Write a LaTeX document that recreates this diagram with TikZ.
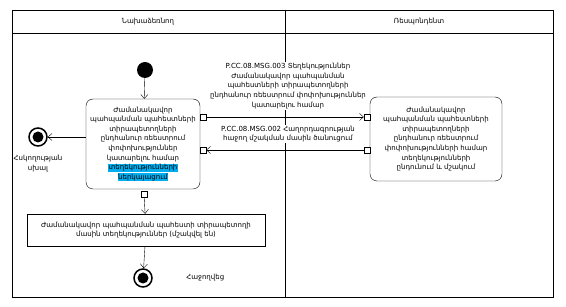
\documentclass[tikz,border=0pt]{standalone}
\usepackage{fontspec}
\setmainfont{DejaVu Sans}
\usepackage{xcolor}
\usetikzlibrary{arrows.meta, positioning}

\newcommand{\hl}[1]{{\setlength{\fboxsep}{0.6pt}\colorbox{cyan}{#1}}}

\begin{document}
\begin{tikzpicture}[x=1pt, y=-1pt,
    every node/.style={font=\fontsize{7}{9.6}\selectfont},
    act/.style={draw, rounded corners=7pt, align=center, fill=white, inner sep=2pt},
    datastore/.style={draw, align=center, fill=white, inner sep=2pt},
    pin/.style={draw, fill=white, minimum size=6pt, inner sep=0pt},
    flow/.style={draw, -{Straight Barb[length=4pt, width=7pt]}},
    msg/.style={fill=white, align=center, inner sep=1pt},
    endnode/.style={circle, draw, line width=1.5pt, minimum size=18pt, inner sep=0pt,
      path picture={\fill (path picture bounding box.center) circle (5.5pt);}}]
  \useasboundingbox (0,0) rectangle (566,307);
  % swimlanes
  \draw (12,10) rectangle (553,297);
  \draw (12,33) -- (553,33);
  \draw (285,10) -- (285,297);
  \node (laneA) at (148,22) {Նախաձեռնող};
  \node (laneB) at (419,22) {Ռեսպոնդենտ};
  % initiator
  \node[circle, fill=black, minimum size=16pt, inner sep=0pt] (start) at (145,70) {};
  \node[act, minimum width=114pt, minimum height=90pt] (submit) at (143,144)
    {Ժամանակավոր\\պահպանման պահեստների\\տիրապետողների\\ընդհանուր ռեեստրում\\փոփոխություններ\\կատարելու համար\\\hl{տեղեկությունների}\\\hl{ներկայացում}};
  \node[pin] (sendpin) at (203,117) {};
  \node[pin] (recvpin) at (203,150) {};
  \node[pin] (outpin) at (144,194) {};
  \node[endnode] (fail) at (38,137) {};
  \node[below=5pt of fail, align=center] (faillbl) {Հսկողության\\սխալ};
  \node[datastore, minimum width=238pt, minimum height=32pt] (result) at (146,230)
    {Ժամանակավոր պահպանման պահեստի տիրապետողի\\մասին տեղեկություններ (մշակվել են)};
  \node[endnode] (done) at (143,278) {};
  \node[right=30pt of done] (donelbl) {Հաջողվեց};
  % respondent
  \node[act, minimum width=132pt, minimum height=84pt] (process) at (436,139)
    {Ժամանակավոր\\պահպանման պահեստների\\տիրապետողների\\ընդհանուր ռեեստրում\\փոփոխությունների համար\\տեղեկությունների\\ընդունում և մշակում};
  \node[pin] (inpin) at (367,117) {};
  \node[pin] (replypin) at (367,150) {};
  % flows
  \draw[flow] (start) -- (submit);
  \draw[flow] (submit.west |- fail) -- (fail);
  \draw[flow] (outpin) -- (result);
  \draw[flow] (result) -- (done);
  % messages
  \draw[flow] (sendpin) -- (inpin);
  \draw[flow] (replypin) -- (recvpin);
  \node[msg] (msg003) at (288,86)
    {P.CC.08.MSG.003 Տեղեկություններ\\Ժամանակավոր պահպանման\\պահեստների տիրապետողների\\ընդհանուր ռեեստրում փոփոխություններ\\կատարելու համար};
  \node[msg] (msg002) at (288,134)
    {P.CC.08.MSG.002 Հաղորդագրության\\հաջող մշակման մասին ծանուցում};
\end{tikzpicture}
\end{document}
